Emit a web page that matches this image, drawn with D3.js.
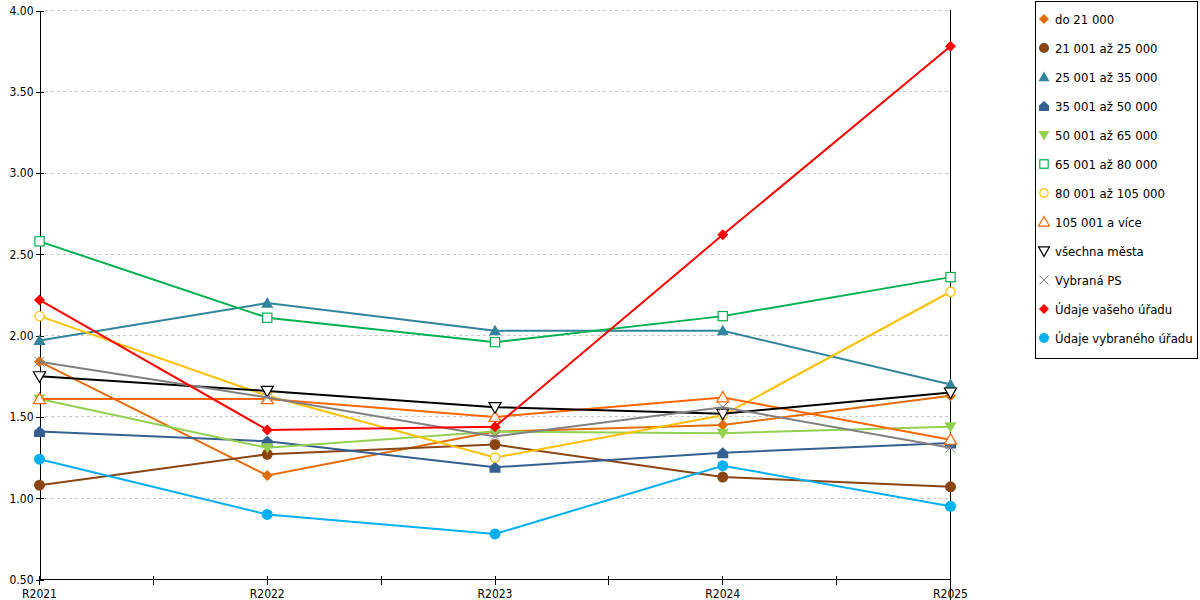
<!DOCTYPE html>
<html lang="cs">
<head>
<meta charset="utf-8">
<title>Chart</title>
<script src="https://cdn.jsdelivr.net/npm/d3@7"></script>
<style>
  body { margin: 0; background: #fff; }
  text { font-family: "DejaVu Sans Condensed", "DejaVu Sans", sans-serif; font-stretch: condensed; font-size: 12px; fill: #000; }
  .legend text { font-size: 13px; }
  .crisp { shape-rendering: crispEdges; }
</style>
</head>
<body>
<script>
// data
var years = ["R2021", "R2022", "R2023", "R2024", "R2025"];
var yTicks = [0.5, 1.0, 1.5, 2.0, 2.5, 3.0, 3.5, 4.0];
var seriesNames = ["do 21 000", "21 001 až 25 000", "25 001 až 35 000", "35 001 až 50 000",
  "50 001 až 65 000", "65 001 až 80 000", "80 001 až 105 000", "105 001 a více",
  "všechna města", "Vybraná PS", "Údaje vašeho úřadu", "Údaje vybraného úřadu"];
var do21 = [1.84, 1.14, 1.41, 1.45, 1.63];
var s21_25 = [1.08, 1.27, 1.33, 1.13, 1.07];
var s25_35 = [1.97, 2.20, 2.03, 2.03, 1.70];
var s35_50 = [1.41, 1.35, 1.19, 1.28, 1.34];
var s50_65 = [1.61, 1.31, 1.41, 1.40, 1.44];
var s65_80 = [2.58, 2.11, 1.96, 2.12, 2.36];
var s80_105 = [2.12, 1.63, 1.25, 1.51, 2.27];
var s105 = [1.61, 1.61, 1.50, 1.62, 1.36];
var vsechna = [1.75, 1.66, 1.56, 1.52, 1.65];
var vybranaPS = [1.84, 1.62, 1.38, 1.56, 1.31];
var vasUrad = [2.22, 1.42, 1.44, 2.62, 3.78];
var vybranyUrad = [1.24, 0.90, 0.78, 1.20, 0.95];

var values = [do21, s21_25, s25_35, s35_50, s50_65, s65_80, s80_105, s105, vsechna, vybranaPS, vasUrad, vybranyUrad];
var colors = ["#E46C0A", "#8B4513", "#31849B", "#365F91", "#92D050", "#00B050",
  "#FFC000", "#FF6600", "#000000", "#808080", "#FF0000", "#00B0F0"];
var shapes = ["diamond", "circle", "triangle", "house", "triangleDown", "squareOpen",
  "circleOpen", "triangleOpen", "triangleDownOpen", "cross", "diamond", "circle"];

var w = 1200, h = 600;
var svg = d3.select("body").append("svg").attr("width", w).attr("height", h);

var x = d3.scalePoint().domain(years).range([39.5, 950.5]);
var y = d3.scaleLinear().domain([0.5, 4]).range([579.5, 10.5]);

// gridlines
svg.append("g").selectAll("line")
  .data(yTicks.slice(1))
  .enter().append("line")
  .attr("class", "crisp")
  .attr("x1", 45).attr("x2", 950)
  .attr("y1", function(d) { return Math.round(y(d) - 0.5) + 0.5; })
  .attr("y2", function(d) { return Math.round(y(d) - 0.5) + 0.5; })
  .attr("stroke", "#c8c8c8")
  .attr("stroke-dasharray", "3,3");

// y axis
var yAxis = svg.append("g").attr("transform", "translate(39.5,0)")
  .call(d3.axisLeft(y).tickValues(yTicks).tickFormat(d3.format(".2f")).tickSizeOuter(0).tickSize(4));
yAxis.attr("font-family", null).attr("font-size", null);
yAxis.select(".domain").attr("stroke", "#000").attr("class", "domain crisp");
yAxis.selectAll(".tick line").attr("x1", -4).attr("x2", 4).attr("stroke", "#000").attr("class", "crisp");
yAxis.selectAll(".tick text").attr("x", -6).attr("fill", "#000");

// x axis ticks (at categories and midpoints)
var step = x.step();
var tickPos = [];
years.forEach(function(d, i) {
  tickPos.push(x(d));
  if (i < years.length - 1) tickPos.push(Math.round(x(d) + step / 2 - 0.5) + 0.5);
});
svg.append("line").attr("class", "crisp").attr("x1", 39).attr("x2", 951).attr("y1", 579.5).attr("y2", 579.5).attr("stroke", "#000");
svg.append("g").selectAll("line").data(tickPos).enter().append("line")
  .attr("class", "crisp")
  .attr("x1", function(d) { return d; }).attr("x2", function(d) { return d; })
  .attr("y1", 576).attr("y2", 585).attr("stroke", "#000");
svg.append("g").selectAll("text").data(years).enter().append("text")
  .attr("x", function(d) { return x(d); })
  .attr("y", 598)
  .attr("text-anchor", "middle")
  .text(function(d) { return d; });

// right border line
svg.append("line").attr("class", "crisp").attr("x1", 950.5).attr("x2", 950.5).attr("y1", 10).attr("y2", 600).attr("stroke", "#000");

// marker drawing helper
function drawMarker(g, shape, color, cx, cy, s) {
  var m;
  if (shape == "diamond") {
    var d = s * 0.5;
    m = g.append("path").attr("d", "M0," + (-d) + "L" + d + ",0L0," + d + "L" + (-d) + ",0Z")
      .attr("fill", color);
  } else if (shape == "circle") {
    m = g.append("circle").attr("r", s * 0.5).attr("fill", color);
  } else if (shape == "circleOpen") {
    m = g.append("circle").attr("r", s * 0.42).attr("fill", "#fff").attr("stroke", color).attr("stroke-width", 1.2);
  } else if (shape == "triangle" || shape == "triangleOpen") {
    var a = s * 0.55;
    m = g.append("path").attr("d", "M0," + (-a) + "L" + a + "," + (a * 0.75) + "L" + (-a) + "," + (a * 0.75) + "Z");
    if (shape == "triangle") m.attr("fill", color);
    else m.attr("fill", "#fff").attr("stroke", color).attr("stroke-width", 1.2);
  } else if (shape == "triangleDown" || shape == "triangleDownOpen") {
    var b = s * 0.55;
    m = g.append("path").attr("d", "M0," + b + "L" + b + "," + (-b * 0.75) + "L" + (-b) + "," + (-b * 0.75) + "Z");
    if (shape == "triangleDown") m.attr("fill", color);
    else m.attr("fill", "#fff").attr("stroke", color).attr("stroke-width", 1.2);
  } else if (shape == "house") {
    var c = s * 0.5;
    m = g.append("path").attr("d", "M0," + (-c) + "L" + c + "," + (-c * 0.1) + "L" + c + "," + c +
      "L" + (-c) + "," + c + "L" + (-c) + "," + (-c * 0.1) + "Z").attr("fill", color);
  } else if (shape == "squareOpen") {
    var q = s * 0.42;
    m = g.append("rect").attr("x", -q).attr("y", -q).attr("width", 2 * q).attr("height", 2 * q)
      .attr("fill", "#fff").attr("stroke", color).attr("stroke-width", 1.2);
  } else if (shape == "cross") {
    var k = s * 0.45;
    m = g.append("path").attr("d", "M" + (-k) + "," + (-k) + "L" + k + "," + k + "M" + k + "," + (-k) + "L" + (-k) + "," + k)
      .attr("fill", "none").attr("stroke", color).attr("stroke-width", 1);
  }
  m.attr("transform", "translate(" + cx + "," + cy + ")");
}

// series
var line = d3.line()
  .x(function(d, i) { return x(years[i]); })
  .y(function(d) { return y(d); });

values.forEach(function(vals, si) {
  var g = svg.append("g");
  g.append("path").datum(vals)
    .attr("d", line)
    .attr("fill", "none")
    .attr("stroke", colors[si])
    .attr("stroke-width", 2);
  vals.forEach(function(v, i) {
    drawMarker(g, shapes[si], colors[si], x(years[i]), y(v), 11);
  });
});

// legend
var lg = svg.append("g").attr("class", "legend");
lg.append("rect").attr("class", "crisp").attr("x", 1035.5).attr("y", 1.5).attr("width", 162).attr("height", 357)
  .attr("fill", "#fff").attr("stroke", "#000");
seriesNames.forEach(function(name, i) {
  var ly = 19 + i * 29;
  drawMarker(lg, shapes[i], colors[i], 1044, ly, 10);
  lg.append("text").attr("x", 1055).attr("y", ly + 5).text(name);
});
</script>
</body>
</html>
